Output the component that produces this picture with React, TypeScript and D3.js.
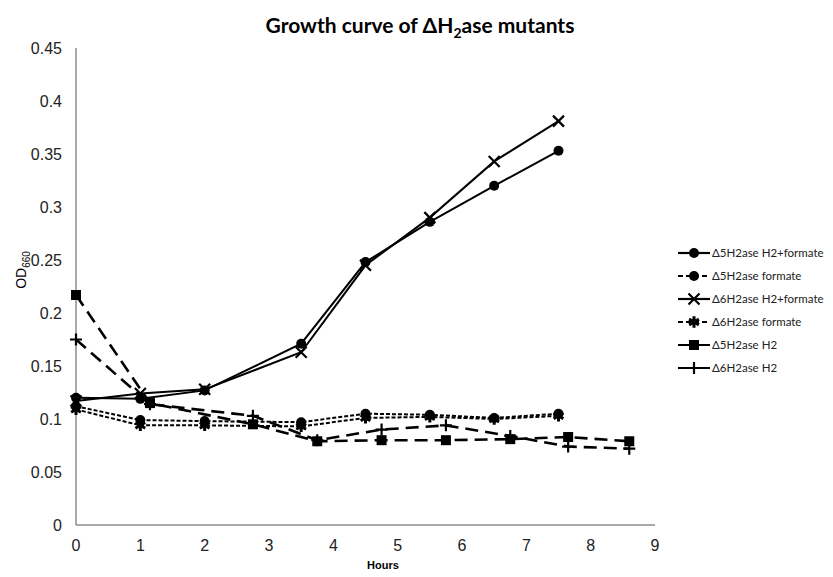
import React from 'react'
import * as d3 from 'd3'

// data
const hoursA = [0, 1, 2, 3.5, 4.5, 5.5, 6.5, 7.5]
const hoursB = [0, 1.15, 2.75, 3.75, 4.75, 5.75, 6.75, 7.65, 8.6]

const d5H2Formate = [0.12, 0.119, 0.127, 0.171, 0.248, 0.286, 0.32, 0.353]
const d5Formate = [0.112, 0.099, 0.098, 0.097, 0.105, 0.104, 0.101, 0.105]
const d6H2Formate = [0.117, 0.124, 0.128, 0.163, 0.245, 0.29, 0.343, 0.381]
const d6Formate = [0.109, 0.094, 0.094, 0.093, 0.101, 0.102, 0.1, 0.103]
const d5H2 = [0.217, 0.115, 0.095, 0.079, 0.08, 0.08, 0.081, 0.083, 0.079]
const d6H2 = [0.175, 0.114, 0.103, 0.08, 0.09, 0.094, 0.084, 0.074, 0.072]

const yTicks = [0, 0.05, 0.1, 0.15, 0.2, 0.25, 0.3, 0.35, 0.4, 0.45]
const xTicks = [0, 1, 2, 3, 4, 5, 6, 7, 8, 9]

type Series = {
  name: string
  hours: number[]
  values: number[]
  dash: string
  marker: 'circle' | 'times' | 'asterisk' | 'square' | 'plus'
}

const series: Series[] = [
  { name: 'Δ5H2ase H2+formate', hours: hoursA, values: d5H2Formate, dash: '', marker: 'circle' },
  { name: 'Δ5H2ase formate', hours: hoursA, values: d5Formate, dash: '4,2', marker: 'circle' },
  { name: 'Δ6H2ase H2+formate', hours: hoursA, values: d6H2Formate, dash: '', marker: 'times' },
  { name: 'Δ6H2ase formate', hours: hoursA, values: d6Formate, dash: '4,2', marker: 'asterisk' },
  { name: 'Δ5H2ase H2', hours: hoursB, values: d5H2, dash: '13,7', marker: 'square' },
  { name: 'Δ6H2ase H2', hours: hoursB, values: d6H2, dash: '13,7', marker: 'plus' },
]

const W = 833
const H = 577
const left = 76
const right = 655
const top = 48
const bottom = 525

const tickFont = "'Liberation Sans Narrow', 'Liberation Sans', Arial, sans-serif"
const legendFont = "Lato, 'Open Sans', sans-serif"

function Marker({ kind, x, y }: { kind: Series['marker']; x: number; y: number }) {
  if (kind === 'circle') return <circle cx={x} cy={y} r={5} fill="#000" />
  if (kind === 'square') return <rect x={x - 5} y={y - 5} width={10} height={10} fill="#000" />
  if (kind === 'times') {
    const s = 5.5
    return (
      <path
        d={`M${x - s},${y - s}L${x + s},${y + s}M${x - s},${y + s}L${x + s},${y - s}`}
        stroke="#000"
        strokeWidth={2.2}
      />
    )
  }
  if (kind === 'plus') {
    const s = 6
    return (
      <path d={`M${x - s},${y}L${x + s},${y}M${x},${y - s}L${x},${y + s}`} stroke="#000" strokeWidth={2.2} />
    )
  }
  const sym = d3.symbol(d3.symbolAsterisk, 90)()
  return <path d={sym ?? ''} transform={`translate(${x},${y})`} stroke="#000" strokeWidth={3} fill="none" />
}

export default function App() {
  const x = d3.scaleLinear().domain([0, 9]).range([left, right])
  const y = d3.scaleLinear().domain([0, 0.45]).range([bottom, top])

  const line = d3
    .line<[number, number]>()
    .x((d) => x(d[0]))
    .y((d) => y(d[1]))

  const legendX = 678
  const legendY0 = 253
  const legendStep = 23

  return (
    <div style={{ position: 'absolute', left: 0, top: 0 }}>
      <svg width={W} height={H} style={{ display: 'block', background: '#fff' }}>
        <text x={420} y={33} textAnchor="middle" fontFamily={legendFont} fontWeight="bold" fontSize={21}>
          Growth curve of ΔH
          <tspan fontSize={14} dy={5}>
            2
          </tspan>
          <tspan dy={-5}>ase mutants</tspan>
        </text>

        {/* axes */}
        <line x1={left} x2={left} y1={top} y2={bottom} stroke="#8c8c8c" strokeWidth={1.5} />
        <line x1={left} x2={right} y1={bottom} y2={bottom} stroke="#8c8c8c" strokeWidth={1.5} />

        {yTicks.map((t) => (
          <text
            key={'y' + t}
            x={62}
            y={y(t)}
            dy="0.35em"
            textAnchor="end"
            fontFamily={tickFont}
            fontSize={16}
            fill="#222"
          >
            {t}
          </text>
        ))}
        {xTicks.map((t) => (
          <text
            key={'x' + t}
            x={x(t)}
            y={551}
            textAnchor="middle"
            fontFamily={tickFont}
            fontSize={16}
            fill="#222"
          >
            {t}
          </text>
        ))}

        <text x={383} y={569} textAnchor="middle" fontFamily={tickFont} fontWeight="bold" fontSize={11}>
          Hours
        </text>
        <text
          transform="translate(26,270) rotate(-90)"
          textAnchor="middle"
          fontFamily="'Liberation Sans', Arial, sans-serif"
          fontSize={14}
        >
          OD
          <tspan fontSize={10} dy={4}>
            660
          </tspan>
        </text>

        {/* series */}
        {series.map((s) => {
          const pts = s.hours.map((h, i) => [h, s.values[i]] as [number, number])
          return (
            <g key={s.name}>
              <path
                d={line(pts) ?? ''}
                fill="none"
                stroke="#000"
                strokeWidth={s.dash === '13,7' ? 2.6 : 2}
                strokeDasharray={s.dash || undefined}
              />
              {pts.map((p, i) => (
                <Marker key={i} kind={s.marker} x={x(p[0])} y={y(p[1])} />
              ))}
            </g>
          )
        })}

        {/* legend */}
        {series.map((s, i) => {
          const ly = legendY0 + i * legendStep
          return (
            <g key={'lg' + s.name}>
              <line
                x1={legendX}
                x2={legendX + 32}
                y1={ly}
                y2={ly}
                stroke="#000"
                strokeWidth={2.2}
                strokeDasharray={s.dash === '' ? undefined : s.dash === '4,2' ? '5,3' : '13,6'}
              />
              <Marker kind={s.marker} x={legendX + 16} y={ly} />
              <text x={legendX + 34} y={ly} dy="0.35em" fontFamily={legendFont} fontSize={11.5} fill="#222">
                {s.name}
              </text>
            </g>
          )
        })}
      </svg>
    </div>
  )
}
